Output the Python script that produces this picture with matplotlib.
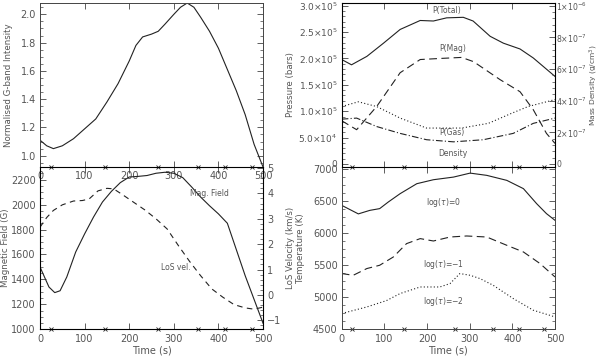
import matplotlib
matplotlib.use('Agg')
import matplotlib.pyplot as plt
from matplotlib.ticker import AutoMinorLocator, FixedLocator
import numpy as np

plt.rcParams['font.family'] = 'DejaVu Sans'
plt.rcParams['mathtext.fontset'] = 'dejavusans'

TXT = '#555555'
LN = '#222222'

# times of the observations (x markers on every panel)
obs_times = [25, 145, 265, 355, 415, 475]

# G-band intensity
t_gb = [0, 15, 30, 50, 75, 100, 125, 150, 175, 200, 215, 230, 250, 265, 280, 300,
        315, 330, 345, 360, 380, 400, 420, 440, 460, 480, 500]
gband = [1.11, 1.07, 1.05, 1.07, 1.12, 1.19, 1.26, 1.38, 1.51, 1.67, 1.78, 1.84, 1.86,
         1.88, 1.93, 2.00, 2.05, 2.08, 2.05, 1.98, 1.88, 1.76, 1.61, 1.46, 1.29, 1.08, 0.92]

# magnetic field
t_b = [0, 10, 20, 33, 45, 60, 80, 100, 120, 140, 160, 180, 200, 220, 240, 260, 280,
       300, 320, 340, 360, 380, 400, 420, 440, 460, 480, 500]
bfield = [1500, 1420, 1340, 1295, 1310, 1420, 1620, 1765, 1900, 2020, 2105, 2175, 2220,
          2225, 2232, 2250, 2258, 2250, 2215, 2140, 2060, 1990, 1925, 1850, 1640, 1430,
          1240, 1050]

# LoS velocity
t_v = [0, 15, 30, 50, 75, 95, 110, 130, 150, 165, 185, 210, 235, 260, 285, 310, 335,
       360, 385, 410, 435, 460, 480, 500]
losvel = [2.67, 3.05, 3.33, 3.55, 3.70, 3.72, 3.78, 4.10, 4.20, 4.18, 3.95, 3.65, 3.35,
          3.00, 2.60, 1.95, 1.33, 0.76, 0.24, -0.09, -0.38, -0.51, -0.56, -0.48]

# pressures (bars)
t_pt = [0, 23, 59, 98, 137, 184, 215, 246, 285, 308, 348, 379, 418, 449, 500]
p_total = [1.98e5, 1.88e5, 2.04e5, 2.29e5, 2.55e5, 2.72e5, 2.71e5, 2.77e5, 2.78e5,
           2.71e5, 2.42e5, 2.29e5, 2.18e5, 2.01e5, 1.66e5]
t_pm = [0, 35, 82, 137, 184, 230, 281, 309, 371, 418, 449, 480, 500]
p_mag = [0.82e5, 0.65e5, 1.09e5, 1.73e5, 1.98e5, 2.00e5, 2.02e5, 1.94e5, 1.60e5,
         1.37e5, 1.03e5, 0.58e5, 0.39e5]
t_pg = [0, 35, 82, 137, 199, 262, 332, 402, 449, 500]
p_gas = [0.85e5, 0.87e5, 0.71e5, 0.58e5, 0.46e5, 0.42e5, 0.46e5, 0.58e5, 0.77e5, 0.87e5]

# mass density (g/cm^3)
t_rho = [0, 39, 82, 137, 199, 281, 344, 398, 437, 500]
density = [3.63e-7, 3.93e-7, 3.63e-7, 2.90e-7, 2.27e-7, 2.27e-7, 2.57e-7, 3.20e-7,
           3.63e-7, 4.07e-7]

# temperatures (K)
t_t0 = [0, 39, 66, 89, 109, 137, 176, 215, 262, 301, 340, 387, 426, 457, 480, 500]
temp0 = [6433, 6300, 6355, 6382, 6484, 6615, 6770, 6832, 6873, 6935, 6900, 6822, 6693,
         6459, 6304, 6200]
t_t1 = [0, 27, 59, 89, 121, 152, 184, 215, 254, 293, 340, 387, 426, 465, 500]
temp1 = [5371, 5344, 5449, 5500, 5629, 5837, 5915, 5878, 5940, 5956, 5940, 5811, 5707,
         5526, 5318]
t_t2 = [0, 59, 105, 137, 184, 230, 254, 277, 301, 324, 355, 402, 449, 500]
temp2 = [4749, 4851, 4950, 5060, 5162, 5162, 5215, 5371, 5344, 5293, 5189, 4982, 4800,
         4696]

xticks = [0, 100, 200, 300, 400, 500]

fig = plt.figure(figsize=(6.0, 3.59), dpi=100)
ax_gb = fig.add_axes([0.0667, 0.5348, 0.3717, 0.4568])
ax_p = fig.add_axes([0.5695, 0.5348, 0.3555, 0.4568])
ax_b = fig.add_axes([0.0667, 0.0822, 0.3717, 0.4526])
ax_t = fig.add_axes([0.5695, 0.0822, 0.3555, 0.4526])

LBL = 6.2


def style(ax, labelx=True, right=True):
    ax.patch.set_visible(False)
    ax.set_xlim(0, 500)
    ax.xaxis.set_major_locator(FixedLocator(xticks))
    ax.tick_params(which='both', direction='in', top=True, right=right,
                   labelcolor=TXT, color='#444444', labelsize=7, pad=3)
    ax.tick_params(which='major', length=4, width=0.6)
    ax.tick_params(which='minor', length=2, width=0.5)
    ax.yaxis.set_minor_locator(AutoMinorLocator(4))
    if not labelx:
        ax.tick_params(labelbottom=False)
    for s in ax.spines.values():
        s.set_color('#444444')
        s.set_linewidth(0.7)
    ax.plot(obs_times, [0] * len(obs_times), 'x', color=LN, ms=3, mew=0.6,
            transform=ax.get_xaxis_transform(), clip_on=False)


def twinstyle(ax):
    ax.tick_params(which='both', direction='in', right=True, labelcolor=TXT,
                   color='#444444', labelsize=7, pad=3)
    ax.tick_params(which='major', length=4, width=0.6)
    ax.tick_params(which='minor', length=2, width=0.5)
    ax.yaxis.set_minor_locator(AutoMinorLocator(5))


# G-band
style(ax_gb)
ax_gb.plot(t_gb, gband, color=LN, lw=0.8)
ax_gb.set_ylim(0.92, 2.08)
ax_gb.set_yticks([1.0, 1.2, 1.4, 1.6, 1.8, 2.0])
ax_gb.set_yticklabels(['1.0', '1.2', '1.4', '1.6', '1.8', '2.0'])
ax_gb.set_ylabel('Normalised G-band Intensity', fontsize=LBL, color=TXT)
ax_gb.yaxis.set_label_coords(-0.12, 0.5)

# pressure / density
style(ax_p, labelx=False, right=False)
ax_p.plot(t_pt, p_total, color=LN, lw=0.8)
ax_p.plot(t_pm, p_mag, color=LN, lw=0.8, dashes=(7, 4))
ax_p.plot(t_pg, p_gas, color=LN, lw=0.8, dashes=(6, 2, 1, 2))
ax_p.set_ylim(-5700, 305100)
p_ticks = [0, 5e4, 1e5, 1.5e5, 2e5, 2.5e5, 3e5]
ax_p.set_yticks(p_ticks)
ax_p.set_yticklabels(['0', r'$5.0{\times}10^4$', r'$1.0{\times}10^5$', r'$1.5{\times}10^5$',
                      r'$2.0{\times}10^5$', r'$2.5{\times}10^5$', r'$3.0{\times}10^5$'],
                     fontsize=6.5)
ax_p.yaxis.set_minor_locator(AutoMinorLocator(5))
ax_p.set_ylabel('Pressure (bars)', fontsize=LBL, color=TXT)
ax_p.yaxis.set_label_coords(-0.22, 0.5)
ax_rho = ax_p.twinx()
twinstyle(ax_rho)
ax_rho.plot(t_rho, density, color=LN, lw=0.8, dashes=(1, 2))
ax_rho.set_ylim(-5700 * 1e-6 / 3e5, 305100 * 1e-6 / 3e5)
ax_rho.set_yticks([0, 2e-7, 4e-7, 6e-7, 8e-7, 1e-6])
ax_rho.set_yticklabels(['0', r'$2{\times}10^{-7}$', r'$4{\times}10^{-7}$',
                        r'$6{\times}10^{-7}$', r'$8{\times}10^{-7}$', r'$1{\times}10^{-6}$'],
                       fontsize=5.6)
ax_rho.tick_params(pad=1)
ax_rho.set_ylabel(r'Mass Density (g/cm$^3$)', fontsize=5.4, color=TXT)
ax_rho.yaxis.set_label_coords(1.152, 0.5)
for txt, x, y in [('P(Total)', 0.49, 0.955), ('P(Mag)', 0.52, 0.72),
                  ('P(Gas)', 0.515, 0.21), ('Density', 0.52, 0.08)]:
    ax_p.text(x, y, txt, transform=ax_p.transAxes, fontsize=5.5, color=TXT,
              ha='center', va='center')

# magnetic field / LoS velocity
style(ax_b, right=False)
ax_b.plot(t_b, bfield, color=LN, lw=0.8)
ax_b.set_ylim(1000, 2300)
ax_b.set_yticks([1000, 1200, 1400, 1600, 1800, 2000, 2200])
ax_b.set_xlabel('Time (s)', fontsize=7, color=TXT, labelpad=1)
ax_b.set_ylabel('Magnetic Field (G)', fontsize=LBL, color=TXT)
ax_b.yaxis.set_label_coords(-0.135, 0.5)
ax_v = ax_b.twinx()
twinstyle(ax_v)
ax_v.plot(t_v, losvel, color=LN, lw=0.8, dashes=(5, 4))
ax_v.set_ylim(-1.36, 5.04)
ax_v.set_yticks([-1, 0, 1, 2, 3, 4, 5])
ax_v.set_yticklabels(['\u22121', '0', '1', '2', '3', '4', '5'])
ax_v.set_ylabel('LoS Velocity (km/s)', fontsize=LBL, color=TXT)
ax_v.yaxis.set_label_coords(1.105, 0.5)
ax_b.text(0.76, 0.84, 'Mag. Field', transform=ax_b.transAxes, fontsize=5.5, color=TXT,
          ha='center', va='center')
ax_b.text(0.61, 0.38, 'LoS vel.', transform=ax_b.transAxes, fontsize=5.5, color=TXT,
          ha='center', va='center')

# temperature
style(ax_t)
ax_t.plot(t_t0, temp0, color=LN, lw=0.8)
ax_t.plot(t_t1, temp1, color=LN, lw=0.8, dashes=(7, 4))
ax_t.plot(t_t2, temp2, color=LN, lw=0.8, dashes=(1, 2))
ax_t.set_ylim(4500, 7030)
ax_t.set_yticks([4500, 5000, 5500, 6000, 6500, 7000])
ax_t.set_xlabel('Time (s)', fontsize=7, color=TXT, labelpad=1)
ax_t.set_ylabel('Temperature (K)', fontsize=LBL, color=TXT)
ax_t.yaxis.set_label_coords(-0.17, 0.5)
for txt, y in [(r'log($\tau$)=0', 0.78), (r'log($\tau$)=$-$1', 0.40),
               (r'log($\tau$)=$-$2', 0.17)]:
    ax_t.text(0.475, y, txt, transform=ax_t.transAxes, fontsize=5.5, color=TXT,
              ha='center', va='center')

fig.savefig('out.png', dpi=100)
